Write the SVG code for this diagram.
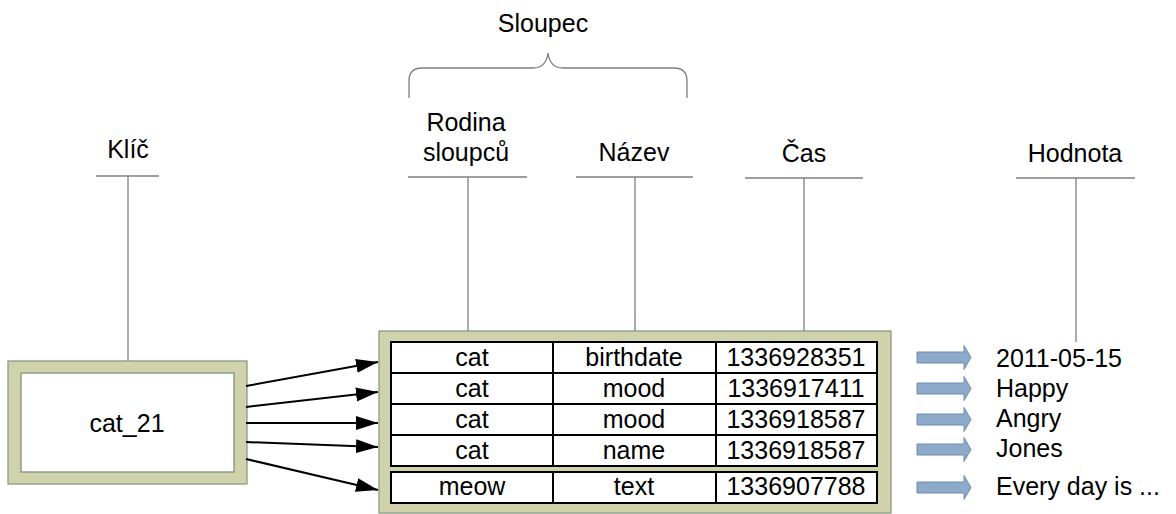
<svg xmlns="http://www.w3.org/2000/svg" width="1176" height="514" viewBox="0 0 1176 514">
<style>
text{font-family:"Liberation Sans",Arial,sans-serif;font-size:25px;fill:#000}
.c{text-anchor:middle}
.g{stroke:#808080;stroke-width:1.3;fill:none}
.olive{fill:#d0d2ac;stroke:#8a9c80;stroke-width:1.3}
.cell{fill:#fff;stroke:#000;stroke-width:2}
.inner{fill:#fff;stroke:#7f9277;stroke-width:1.3}
.blk{stroke:#000;stroke-width:2;fill:none;marker-end:url(#ah)}
.blue{fill:#8eaacb;stroke:#6e8bae;stroke-width:1}
</style>
<defs>
<marker id="ah" markerUnits="userSpaceOnUse" markerWidth="24" markerHeight="16" refX="22" refY="7" orient="auto">
<path d="M0,0 L22,7 L0,14 Z" fill="#000"/>
</marker>
<path id="barrow" d="M0,-5.5 H47 V-12 L54,0 L47,12 V5.5 H0 Z"/>
</defs>

<g id="headers">
<text class="c" x="543" y="32">Sloupec</text>
<path class="g" d="M409,98 V81 Q409,68 422,68 H533 Q546,68 548,53 Q550,68 563,68 H674 Q687,68 687,81 V98"/>
<text class="c" x="128" y="158">Klíč</text>
<path class="g" d="M96,176 H159 M128,176 V362"/>
<text class="c" x="466" y="131">Rodina</text>
<text class="c" x="466" y="161">sloupců</text>
<path class="g" d="M408,177 H527 M468,177 V331"/>
<text class="c" x="634" y="161">Název</text>
<path class="g" d="M576,177 H693 M635,177 V331"/>
<text class="c" x="804" y="162">Čas</text>
<path class="g" d="M745,178 H863 M804,178 V331"/>
<text class="c" x="1075" y="162">Hodnota</text>
<path class="g" d="M1016,178 H1135 M1076,178 V342"/>
</g>

<g id="key">
<rect class="olive" x="8" y="361" width="239" height="123"/>
<rect class="inner" x="21" y="373" width="213" height="99"/>
<text class="c" x="127" y="432">cat_21</text>
</g>

<g id="table">
<rect class="olive" x="379" y="331" width="512" height="182"/>
<rect class="cell" x="391" y="342" width="486" height="124"/>
<path stroke="#000" stroke-width="2" d="M391,373 H877 M391,404 H877 M391,435 H877 M553,342 V466 M716,342 V466"/>
<rect class="cell" x="391" y="472" width="486" height="31"/>
<path stroke="#000" stroke-width="2" d="M553,472 V503 M716,472 V503"/>
<g class="c">
<text class="c" x="472" y="366">cat</text>
<text class="c" x="634" y="366">birthdate</text>
<text class="c" x="796" y="366">1336928351</text>
<text class="c" x="472" y="397">cat</text>
<text class="c" x="634" y="397">mood</text>
<text class="c" x="796" y="397">1336917411</text>
<text class="c" x="472" y="428">cat</text>
<text class="c" x="634" y="428">mood</text>
<text class="c" x="796" y="428">1336918587</text>
<text class="c" x="472" y="459">cat</text>
<text class="c" x="634" y="459">name</text>
<text class="c" x="796" y="459">1336918587</text>
<text class="c" x="472" y="495">meow</text>
<text class="c" x="634" y="495">text</text>
<text class="c" x="796" y="495">1336907788</text>
</g>
</g>

<g id="values">
<use href="#barrow" class="blue" x="917" y="357.5"/>
<use href="#barrow" class="blue" x="917" y="388.5"/>
<use href="#barrow" class="blue" x="917" y="419.5"/>
<use href="#barrow" class="blue" x="917" y="449.5"/>
<use href="#barrow" class="blue" x="917" y="487.5"/>
<text x="996" y="367">2011-05-15</text>
<text x="996" y="397">Happy</text>
<text x="996" y="427">Angry</text>
<text x="996" y="457">Jones</text>
<text x="996" y="495">Every day is ...</text>
</g>

<g id="connectors">
<line class="blk" x1="246" y1="386" x2="378" y2="362"/>
<line class="blk" x1="246" y1="407" x2="378" y2="392"/>
<line class="blk" x1="246" y1="423" x2="378" y2="423"/>
<line class="blk" x1="246" y1="442" x2="378" y2="447"/>
<line class="blk" x1="246" y1="459" x2="378" y2="490"/>
</g>
</svg>
